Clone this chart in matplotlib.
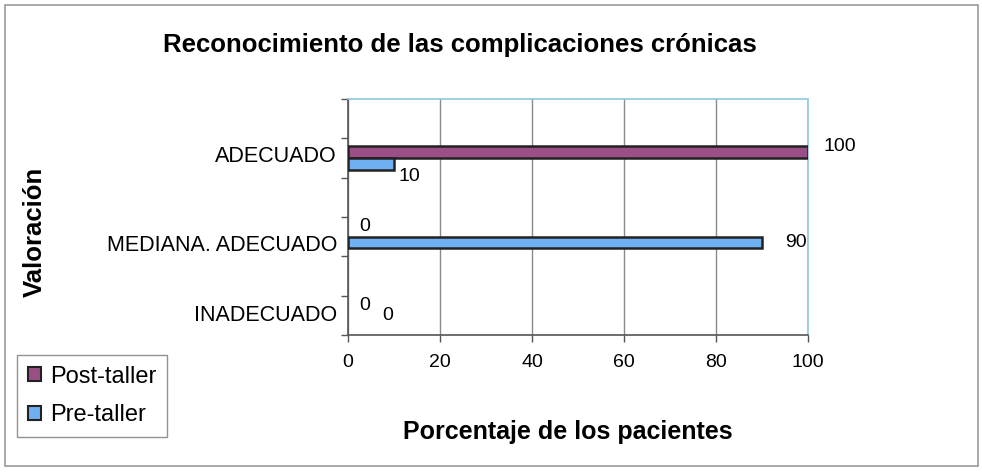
import matplotlib
matplotlib.use("Agg")
import matplotlib.pyplot as plt
from matplotlib.patches import Rectangle
import numpy as np

plt.rcParams['font.family'] = ['Liberation Sans', 'DejaVu Sans']

categories = ["ADECUADO", "MEDIANA. ADECUADO", "INADECUADO"]
post_taller = [100, 0, 0]
pre_taller = [10, 90, 0]
x_ticks = [0, 20, 40, 60, 80, 100]

post_color = "#9c4f86"
pre_color = "#6fb0f2"

# label offsets (points) for each bar's value text
post_offsets = [(11, 4), (8, 3), (8, 3)]
pre_offsets = [(3, -9), (17, 0), (25, 4)]

fig = plt.figure(figsize=(9.82, 4.73), dpi=100)
ax = fig.add_axes([348/982, 1-335/473, 460/982, 236/473])

# category slots: each category occupies two units of the y axis
cat_pos = np.array([4.5, 2.5, 0.5])
label_shift = np.array([0.1, -0.16, 0.06])
h = 0.3


def edge_widths(values):
    # empty bars get no outline
    return [1.8 if v > 0 else 0 for v in values]


ax.barh(cat_pos + h/2, post_taller, height=h, color=post_color,
        edgecolor="#222222", linewidth=edge_widths(post_taller),
        label="Post-taller", zorder=3)
ax.barh(cat_pos - h/2, pre_taller, height=h, color=pre_color,
        edgecolor="#222222", linewidth=edge_widths(pre_taller),
        label="Pre-taller", zorder=3)

ax.set_xlim(0, 100)
ax.set_ylim(0, 6)
ax.set_xticks(x_ticks)
ax.set_xticklabels([str(v) for v in x_ticks], fontsize=14)
ax.tick_params(axis='x', length=5, width=1, color="#555555", pad=9)
ax.set_yticks(range(0, 7))
ax.set_yticklabels([])
ax.tick_params(axis='y', length=5, width=1, color="#555555")
ax.set_yticks(cat_pos + label_shift, minor=True)
ax.set_yticklabels(categories, minor=True, fontsize=15.5)
ax.tick_params(axis='y', which='minor', length=0, pad=8)

ax.grid(axis='x', color="#8a8a8a", linewidth=1, zorder=0)
for side in ("left", "bottom"):
    ax.spines[side].set_color("#555555")
    ax.spines[side].set_linewidth(1.2)
for side in ("top", "right"):
    ax.spines[side].set_color("#8fc8dc")
    ax.spines[side].set_linewidth(1.2)
    ax.spines[side].set_linestyle((0, (2, 1)))

# value labels
for y, v, off in zip(cat_pos + h/2, post_taller, post_offsets):
    ax.annotate(str(v), (v, y), xytext=off, textcoords="offset points",
                ha="left", va="center", fontsize=14)
for y, v, off in zip(cat_pos - h/2, pre_taller, pre_offsets):
    ax.annotate(str(v), (v, y), xytext=off, textcoords="offset points",
                ha="left", va="center", fontsize=14)

fig.text(460/982, 1-45/473, "Reconocimiento de las complicaciones crónicas",
         ha="center", va="center", fontsize=18.5, fontweight="bold")
fig.text(568/982, 1-432/473, "Porcentaje de los pacientes",
         ha="center", va="center", fontsize=18, fontweight="bold")
fig.text(35/982, 1-232/473, "Valoración", rotation=90,
         ha="center", va="center", fontsize=18.5, fontweight="bold")

leg = fig.legend(loc="upper left", bbox_to_anchor=(17/982, 1-355/473),
                 fontsize=17, frameon=True, fancybox=False,
                 handlelength=0.55, handleheight=0.55, handletextpad=0.4,
                 labelspacing=0.7, borderpad=0.45, borderaxespad=0)
leg.get_frame().set_edgecolor("#777777")
leg.get_frame().set_linewidth(1)
for handle in leg.legend_handles:
    handle.set_linewidth(1.5)

fig.patches.append(Rectangle((5/982, 7/473), 973/982, 461/473, transform=fig.transFigure,
                             fill=False, edgecolor="#999999", linewidth=1.2))

fig.savefig("out.png", dpi=100)
